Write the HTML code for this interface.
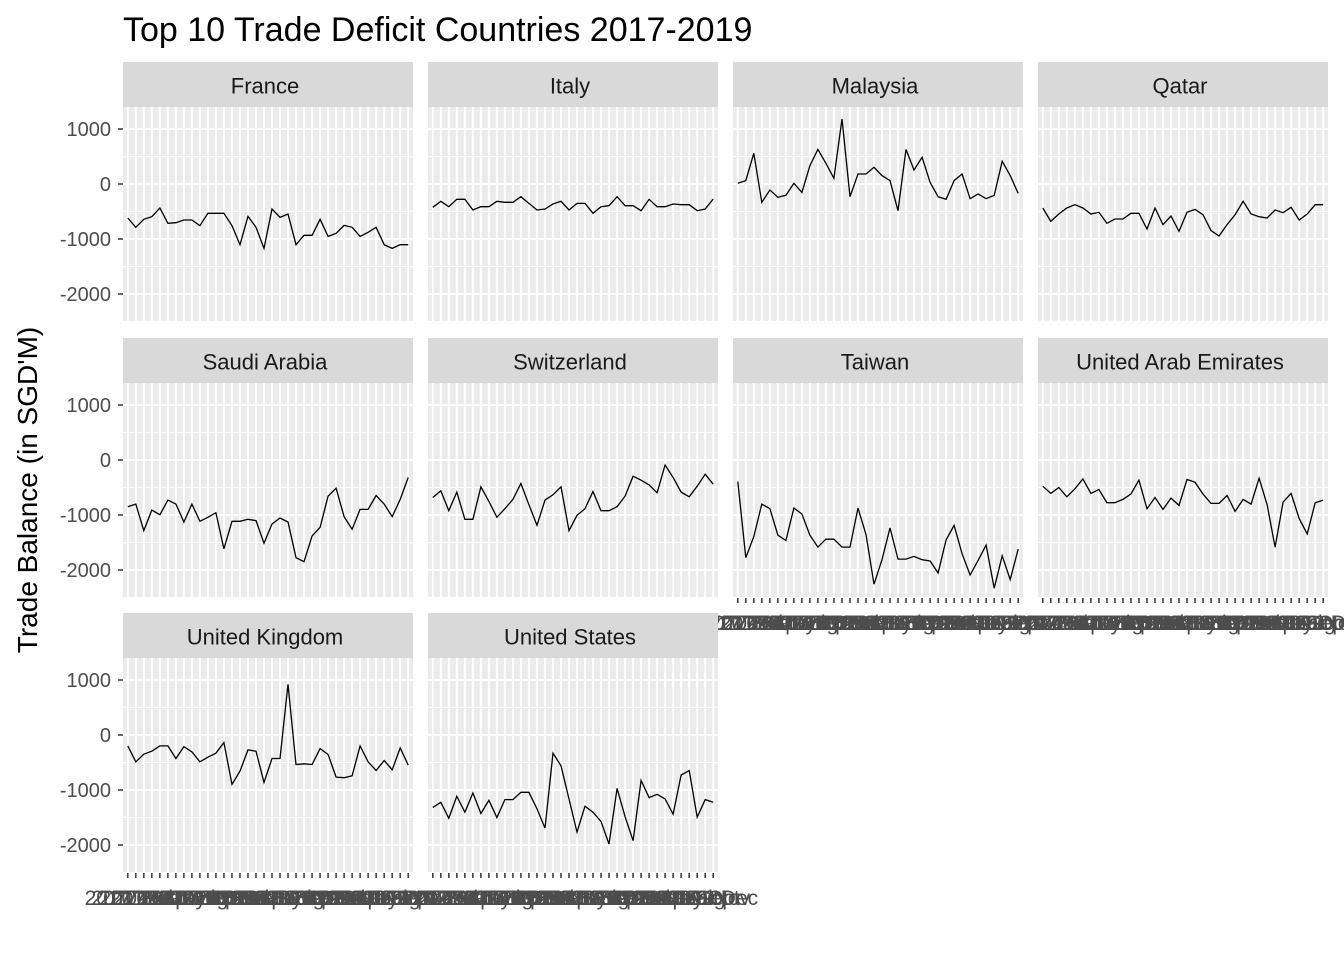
<!DOCTYPE html>
<html><head><meta charset="utf-8"><style>
body{margin:0;background:#fff;}
svg{display:block;font-family:"Liberation Sans",Arial,sans-serif;}
</style></head><body>
<svg id="chart" width="1344" height="960">
<text x="123" y="41" font-size="34" fill="#000">Top 10 Trade Deficit Countries 2017-2019</text>
<text transform="translate(37,490) rotate(-90)" text-anchor="middle" font-size="28" fill="#000">Trade Balance (in SGD'M)</text>
</svg>
<script>
const countries = ["France","Italy","Malaysia","Qatar","Saudi Arabia","Switzerland","Taiwan","United Arab Emirates","United Kingdom","United States"];
const months = ["Jan","Feb","Mar","Apr","May","Jun","Jul","Aug","Sep","Oct","Nov","Dec"];
const years = [2017,2018,2019];
const yTicks = [1000,0,-1000,-2000];
const france = [-618,-788,-642,-594,-436,-715,-703,-655,-655,-758,-533,-533,-533,-758,-1103,-588,-788,-1170,-455,-606,-545,-1103,-933,-933,-642,-952,-897,-752,-788,-952,-879,-788,-1103,-1170,-1103,-1103];
const italy = [-424,-315,-412,-279,-279,-473,-412,-412,-315,-333,-333,-230,-352,-473,-455,-364,-315,-473,-352,-352,-533,-412,-394,-230,-394,-394,-485,-279,-412,-412,-364,-376,-376,-485,-455,-273];
const malaysia = [12,61,558,-333,-109,-242,-206,12,-152,333,630,376,103,1182,-230,182,182,303,152,61,-485,630,255,485,30,-230,-279,61,182,-267,-182,-267,-206,412,152,-170];
const qatar = [-436,-679,-545,-436,-376,-436,-545,-515,-715,-636,-636,-533,-533,-818,-436,-739,-582,-861,-515,-461,-558,-848,-945,-739,-558,-315,-545,-594,-618,-473,-521,-424,-655,-545,-376,-376];
const saudi = [-849,-801,-1283,-910,-994,-729,-801,-1127,-801,-1114,-1042,-958,-1614,-1114,-1114,-1078,-1102,-1512,-1163,-1054,-1127,-1777,-1849,-1380,-1223,-657,-512,-1030,-1259,-898,-898,-645,-801,-1030,-717,-319];
const swiss = [-681,-560,-922,-584,-1078,-1078,-488,-753,-1042,-886,-717,-428,-813,-1187,-729,-633,-488,-1283,-1006,-886,-572,-922,-922,-849,-657,-295,-367,-452,-596,-90,-319,-584,-669,-476,-259,-440];
const taiwan = [-392,-1777,-1392,-801,-886,-1367,-1463,-873,-982,-1367,-1584,-1440,-1440,-1584,-1584,-873,-1355,-2259,-1813,-1235,-1801,-1801,-1753,-1813,-1837,-2054,-1452,-1187,-1705,-2090,-1825,-1548,-2331,-1741,-2175,-1620];
const uae = [-476,-608,-500,-669,-524,-343,-608,-536,-777,-777,-717,-620,-367,-886,-681,-898,-693,-825,-355,-404,-620,-789,-789,-645,-934,-717,-801,-331,-813,-1584,-765,-608,-1066,-1343,-777,-729];
const uk = [-199,-488,-349,-295,-199,-199,-428,-211,-307,-488,-404,-331,-139,-898,-657,-271,-295,-861,-428,-428,922,-536,-524,-536,-247,-355,-765,-777,-741,-199,-488,-645,-464,-633,-235,-548];
const us = [-1319,-1223,-1512,-1114,-1404,-1054,-1428,-1187,-1500,-1175,-1175,-1042,-1042,-1343,-1693,-331,-560,-1163,-1765,-1295,-1404,-1572,-1982,-970,-1488,-1922,-825,-1139,-1078,-1163,-1440,-729,-645,-1494,-1175,-1223];
const series = [france,italy,malaysia,qatar,saudi,swiss,taiwan,uae,uk,us];

const svg = document.getElementById('chart');
const NS = 'http://www.w3.org/2000/svg';
function mk(tag, attrs, parent){const e=document.createElementNS(NS,tag);for(const k in attrs)e.setAttribute(k,attrs[k]);(parent||svg).appendChild(e);return e;}
const labels=[];years.forEach(y=>months.forEach(m=>labels.push(y+' '+m)));
const colX=[123,428,733,1038], PW=290;
const rowStrip=[62,338,613], SH=45, PH=215;
const yMax=1400, yMin=-2509;
const n=labels.length;
function xs(i,px){const step=PW/(n-1+1.2);return px+(i+0.6)*step;}
function ys(v,py){return py+(yMax-v)/(yMax-yMin)*PH;}

countries.forEach((c,ci)=>{
  const col=ci%4,row=Math.floor(ci/4);
  const px=colX[col], sy=rowStrip[row], py=sy+SH;
  const g=mk('g',{});
  
  
  const strip=mk('rect',{x:px,y:sy,width:PW,height:SH,fill:'#D9D9D9'},g);
  
  
  const st=mk('text',{x:px+PW/2-3,y:sy+SH/2+9,'text-anchor':'middle','font-size':'22',fill:'#1A1A1A'},g);
  st.textContent=c;
  
  
  const bg=mk('rect',{x:px,y:py,width:PW,height:PH,fill:'#EBEBEB'},g);
  
  
  [1500,500,-500,-1500,-2500].forEach(v=>{const yy=ys(v,py);if(yy>py&&yy<py+PH)mk('line',{x1:px,x2:px+PW,y1:yy,y2:yy,stroke:'#fff','stroke-width':1},g);});
  yTicks.forEach(v=>{const yy=ys(v,py);mk('line',{x1:px,x2:px+PW,y1:yy,y2:yy,stroke:'#fff','stroke-width':2},g);});
  for(let i=0;i<n;i++){const xx=xs(i,px);mk('line',{x1:xx,x2:xx,y1:py,y2:py+PH,stroke:'#fff','stroke-width':2},g);}
  const d=series[ci].map((v,i)=>(i?'L':'M')+xs(i,px).toFixed(1)+','+ys(v,py).toFixed(1)).join('');
  const ln=mk('path',{d:d,fill:'none',stroke:'#000','stroke-width':1.3},g);
  
  
  if(col===0){
    yTicks.forEach(v=>{const yy=ys(v,py);
      mk('line',{x1:px-5,x2:px,y1:yy,y2:yy,stroke:'#333','stroke-width':1.5},g);
      const t=mk('text',{x:px-12,y:yy+7,'text-anchor':'end','font-size':'20',fill:'#4D4D4D'},g);
      t.textContent=String(v);
      
      
    });
  }
  const bottom = (row===2)||(row===1&&col>=2);
  if(bottom){
    for(let i=0;i<n;i++){const xx=xs(i,px);
      mk('line',{x1:xx,x2:xx,y1:py+PH,y2:py+PH+5,stroke:'#333','stroke-width':1.5},g);
      const t=mk('text',{x:xx,y:py+PH+32,'text-anchor':'middle','font-size':'21',fill:'#4D4D4D'},g);
      t.textContent=labels[i];
      
      
    }
  }
});
</script>
</body></html>
